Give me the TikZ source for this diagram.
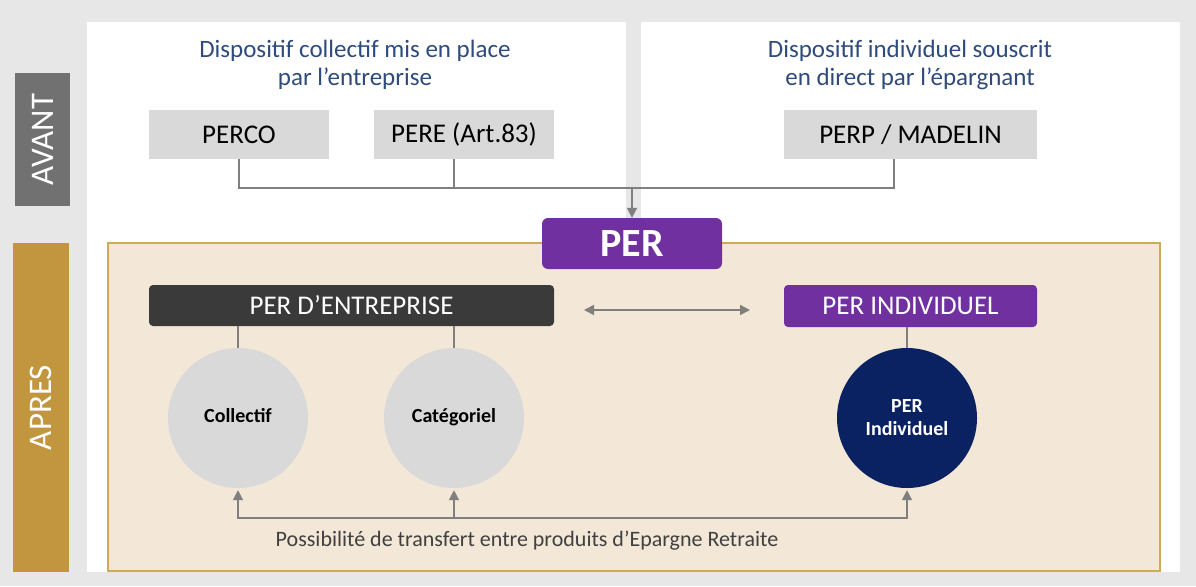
\documentclass[tikz,border=0pt]{standalone}
\usepackage{fontspec}
\setmainfont{Carlito}
\usetikzlibrary{arrows.meta}
\definecolor{bgc}{HTML}{E7E7E7}
\definecolor{avantc}{HTML}{717171}
\definecolor{apresc}{HTML}{C1963F}
\definecolor{beigec}{HTML}{F3E8D7}
\definecolor{beigeb}{HTML}{CDAA5C}
\definecolor{titlec}{HTML}{2E4B7B}
\definecolor{boxg}{HTML}{D9D9D9}
\definecolor{linec}{HTML}{7F7F7F}
\definecolor{purplec}{HTML}{7030A0}
\definecolor{darkc}{HTML}{3A3A3A}
\definecolor{navyc}{HTML}{0B2262}
\definecolor{notec}{HTML}{404040}
\tikzset{
  sidebox/.style={rectangle, rotate=90, text=white, font=\fontsize{33}{33}\selectfont, inner sep=0pt},
  titletext/.style={align=center, text=titlec, font=\fontsize{25}{28}\selectfont},
  oldbox/.style={rectangle, fill=boxg, minimum height=49pt, inner sep=0pt, font=\fontsize{27}{27}\selectfont, text=black},
  newbox/.style={rectangle, rounded corners=4pt, minimum height=41pt, inner sep=0pt, font=\fontsize{27}{27}\selectfont, text=white},
  circ/.style={circle, minimum size=140pt, inner sep=0pt, align=center, font=\bfseries\fontsize{20}{23}\selectfont},
  conn/.style={draw=linec, line width=1.8pt},
  tipa/.tip={Triangle[length=10pt,width=10pt]},
}
\begin{document}
\begin{tikzpicture}[x=1pt,y=-1pt]
\fill[bgc] (0,0) rectangle (1196,586);
\useasboundingbox (0,0) rectangle (1196,586);
% panels
\fill[white] (87,22) rectangle (626,572);
\fill[white] (641,22) rectangle (1180,572);
% side labels
\fill[avantc] (15,73) rectangle (70,206);
\node[sidebox] (avant) at (42.5,139.5) {AVANT};
\fill[apresc] (13,243) rectangle (69,572);
\node[sidebox] (apres) at (41,407.5) {APRES};
% beige area
\node[rectangle, draw=beigeb, fill=beigec, line width=1.3pt, minimum width=1052pt, minimum height=328pt, inner sep=0pt] (area) at (634,407) {};
% titles
\node[titletext] (t1) at (355,65) {Dispositif collectif mis en place\\par l’entreprise};
\node[titletext] (t2) at (910,65) {Dispositif individuel souscrit\\en direct par l’épargnant};
% old boxes
\node[oldbox, minimum width=180pt] (perco) at (239,134.5) {PERCO};
\node[oldbox, minimum width=180pt] (pere) at (464,134.5) {PERE (Art.83)};
\node[oldbox, minimum width=253pt] (perp) at (910.5,134.5) {PERP / MADELIN};
% PER
\node[rectangle, rounded corners=6pt, fill=purplec, minimum width=180pt, minimum height=51pt, inner sep=0pt, text=white, font=\bfseries\fontsize{40}{40}\selectfont] (per) at (632,243.5) {PER};
% connectors top
\coordinate (jl) at (239,188);
\coordinate (jr) at (894,188);
\coordinate (jp) at (454,188);
\coordinate (jm) at (632,188);
\draw[conn] (perco.south) -- (jl) -- (jr) -- (jr |- perp.south);
\draw[conn] (jp) -- (jp |- pere.south);
\draw[conn, -tipa] (jm) -- (per.north);
% new boxes
\node[newbox, fill=darkc, minimum width=405pt] (entr) at (351.5,305.5) {PER D’ENTREPRISE};
\node[newbox, fill=purplec, minimum width=253pt, minimum height=42pt] (indiv) at (910.5,306) {PER INDIVIDUEL};
\coordinate (da) at (584,310);
\coordinate (db) at (750,310);
\draw[conn, tipa-tipa] (da) -- (db);
% circles
\node[circ, fill=boxg, text=black] (coll) at (238,418) {\strut Collectif};
\node[circ, fill=boxg, text=black] (cat) at (454,418) {\strut Catégoriel};
\node[circ, fill=navyc, text=white] (pind) at (907,418) {PER\\Individuel};
\draw[conn] (coll.north |- entr.south) -- (coll.north);
\draw[conn] (cat.north |- entr.south) -- (cat.north);
\draw[conn] (pind.north |- indiv.south) -- (pind.north);
% bottom arrows
\coordinate (bl) at (238,518);
\coordinate (br) at (907,518);
\draw[conn, tipa-tipa, shorten <=2pt, shorten >=2pt] (coll.south) -- (bl) -- (br) -- (pind.south);
\draw[conn, -tipa, shorten >=2pt] (cat.south |- bl) -- (cat.south);
\node[text=notec, font=\fontsize{22}{22}\selectfont] (note) at (527,541) {Possibilité de transfert entre produits d’Epargne Retraite};
\end{tikzpicture}
\end{document}
